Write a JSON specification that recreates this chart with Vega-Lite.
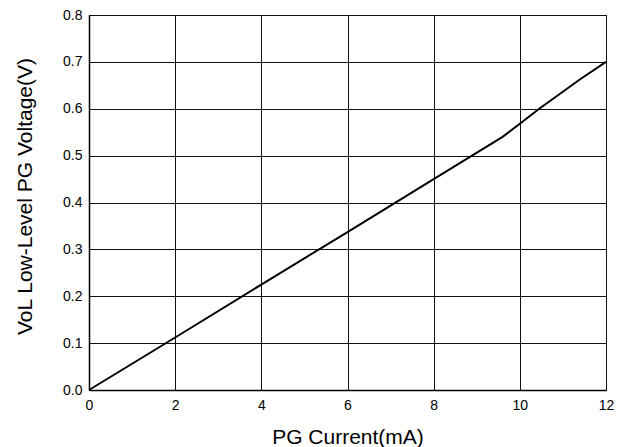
{
  "$schema": "https://vega.github.io/schema/vega-lite/v6.json",
  "width": 517,
  "height": 375,
  "autosize": {"type": "none"},
  "padding": {"left": 89, "top": 15, "right": 20, "bottom": 57},
  "background": "white",
  "config": {
    "view": {"stroke": "black", "strokeWidth": 1},
    "font": "Liberation Sans"
  },
  "data": {
    "values": [
      {"current": 0, "voltage": 0},
      {"current": 2, "voltage": 0.112},
      {"current": 4, "voltage": 0.225},
      {"current": 6, "voltage": 0.337},
      {"current": 8, "voltage": 0.45},
      {"current": 9.6, "voltage": 0.54},
      {"current": 10, "voltage": 0.568},
      {"current": 10.45, "voltage": 0.6},
      {"current": 11.4, "voltage": 0.663},
      {"current": 12, "voltage": 0.7}
    ]
  },
  "mark": {"type": "line", "color": "black", "strokeWidth": 2},
  "encoding": {
    "x": {
      "field": "current",
      "type": "quantitative",
      "scale": {"domain": [0, 12], "nice": false},
      "axis": {
        "title": "PG Current(mA)",
        "values": [0, 2, 4, 6, 8, 10, 12],
        "grid": true,
        "gridColor": "#111",
        "gridOpacity": 1,
        "gridWidth": 1,
        "domainColor": "black",
        "domainWidth": 1.5,
        "ticks": false,
        "labelPadding": 8,
        "labelFontSize": 14,
        "labelColor": "black",
        "labelFont": "Liberation Sans",
        "titleFont": "Liberation Sans",
        "titleFontSize": 21,
        "titleFontWeight": "normal",
        "titleColor": "black",
        "titleBaseline": "alphabetic",
        "titleY": 53,
        "labelFlush": false
      }
    },
    "y": {
      "field": "voltage",
      "type": "quantitative",
      "scale": {"domain": [0, 0.8], "nice": false},
      "axis": {
        "title": "VoL Low-Level PG Voltage(V)",
        "values": [0, 0.1, 0.2, 0.3, 0.4, 0.5, 0.6, 0.7, 0.8],
        "format": ".1f",
        "grid": true,
        "gridColor": "#111",
        "gridOpacity": 1,
        "gridWidth": 1,
        "domainColor": "black",
        "domainWidth": 1.5,
        "ticks": false,
        "labelPadding": 7,
        "labelFontSize": 14,
        "labelColor": "black",
        "labelFont": "Liberation Sans",
        "titleFont": "Liberation Sans",
        "titleFontSize": 21,
        "titleFontWeight": "normal",
        "titleColor": "black",
        "titleX": -58,
        "titleY": 181,
        "titleBaseline": "alphabetic",
        "labelFlush": false
      }
    }
  }
}
